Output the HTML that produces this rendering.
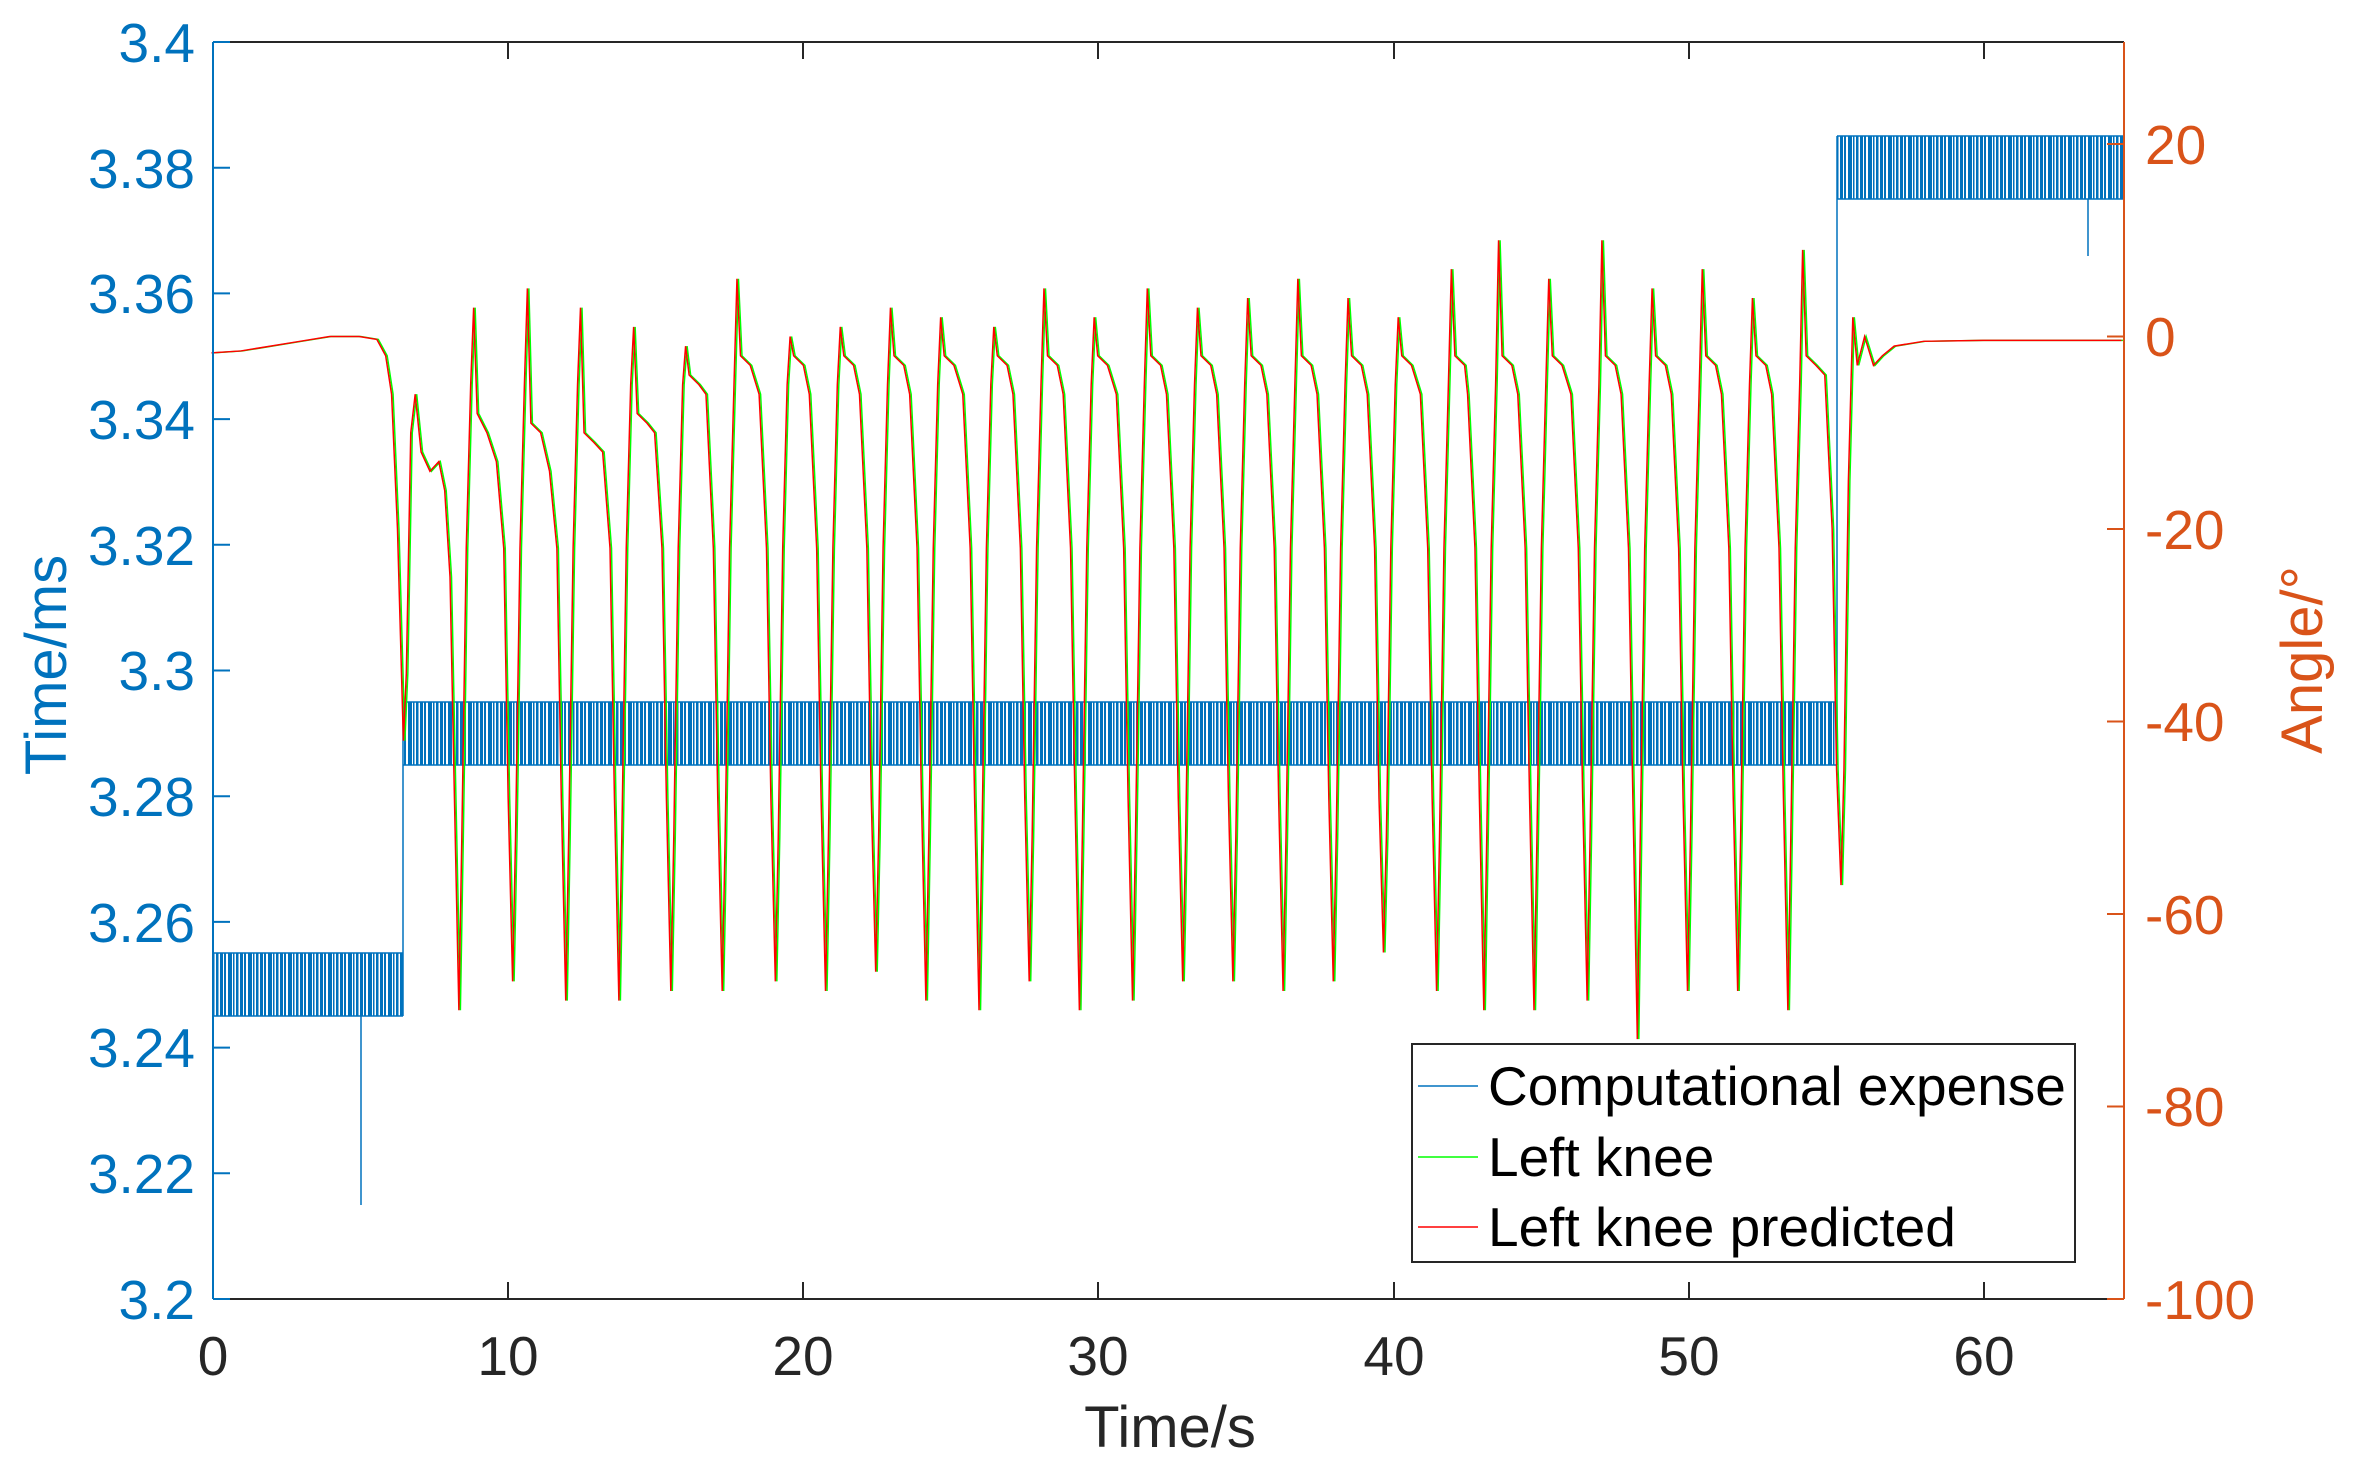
<!DOCTYPE html>
<html><head><meta charset="utf-8"><style>
html,body{margin:0;padding:0;background:#fff;}
svg{display:block;font-family:"Liberation Sans",Arial,sans-serif;}
</style></head><body>
<svg width="2353" height="1473" xmlns="http://www.w3.org/2000/svg" xmlns:xlink="http://www.w3.org/1999/xlink">
<defs>
<pattern id="bp" x="0" y="0" width="20" height="10" patternUnits="userSpaceOnUse">
<rect x="0" y="0" width="3" height="10" fill="#0072BD"/>
<rect x="4" y="0" width="2" height="10" fill="#0072BD"/>
<rect x="8" y="0" width="4" height="10" fill="#0072BD"/>
<rect x="13" y="0" width="1.5" height="10" fill="#0072BD"/>
<rect x="16" y="0" width="2.5" height="10" fill="#0072BD"/>
</pattern>
<path id="knee" fill="none" vector-effect="non-scaling-stroke" d="M0,-1.7 L1,-1.5 L2,-1 L3,-0.5 L4,0 L5,0 L5.6,-0.3 L5.9,-2 L6.1,-6 L6.3,-20 L6.5,-42 L6.6,-35 L6.75,-10 L6.9,-6 L7.1,-12 L7.4,-14 L7.7,-13 L7.9,-16 L8.08,-25 L8.23,-48 L8.38,-70 L8.48,-52 L8.63,-22 L8.78,-5 L8.88,3 L9.0,-8 L9.33,-10
L9.65,-13 L9.9,-22 L10.05,-48 L10.2,-67 L10.3,-52 L10.45,-22 L10.6,-5 L10.7,5 L10.82,-9 L11.15,-10
L11.45,-14 L11.7,-22 L11.85,-48 L12.0,-69 L12.1,-52 L12.25,-22 L12.4,-5 L12.5,3 L12.62,-10 L12.95,-11
L13.25,-12 L13.5,-22 L13.65,-48 L13.8,-69 L13.9,-52 L14.05,-22 L14.2,-5 L14.3,1 L14.42,-8 L14.75,-9
L15.01,-10 L15.26,-22 L15.41,-48 L15.56,-68 L15.66,-52 L15.81,-22 L15.96,-5 L16.06,-1 L16.18,-4 L16.51,-5
L16.75,-6 L17.0,-22 L17.15,-48 L17.3,-68 L17.4,-52 L17.55,-22 L17.7,-5 L17.8,6 L17.92,-2 L18.25,-3
L18.55,-6 L18.8,-22 L18.95,-48 L19.1,-67 L19.2,-52 L19.35,-22 L19.5,-5 L19.6,0 L19.72,-2 L20.05,-3
L20.25,-6 L20.5,-22 L20.65,-48 L20.8,-68 L20.9,-52 L21.05,-22 L21.2,-5 L21.3,1 L21.42,-2 L21.75,-3
L21.95,-6 L22.2,-22 L22.35,-48 L22.5,-66 L22.6,-52 L22.75,-22 L22.9,-5 L23.0,3 L23.12,-2 L23.45,-3
L23.65,-6 L23.9,-22 L24.05,-48 L24.2,-69 L24.3,-52 L24.45,-22 L24.6,-5 L24.7,2 L24.82,-2 L25.15,-3
L25.45,-6 L25.7,-22 L25.85,-48 L26.0,-70 L26.1,-52 L26.25,-22 L26.4,-5 L26.5,1 L26.62,-2 L26.95,-3
L27.15,-6 L27.4,-22 L27.55,-48 L27.7,-67 L27.8,-52 L27.95,-22 L28.1,-5 L28.2,5 L28.32,-2 L28.65,-3
L28.85,-6 L29.1,-22 L29.25,-48 L29.4,-70 L29.5,-52 L29.65,-22 L29.8,-5 L29.9,2 L30.02,-2 L30.35,-3
L30.65,-6 L30.9,-22 L31.05,-48 L31.2,-69 L31.3,-52 L31.45,-22 L31.6,-5 L31.7,5 L31.82,-2 L32.15,-3
L32.35,-6 L32.6,-22 L32.75,-48 L32.9,-67 L33.0,-52 L33.15,-22 L33.3,-5 L33.4,3 L33.52,-2 L33.85,-3
L34.05,-6 L34.3,-22 L34.45,-48 L34.6,-67 L34.7,-52 L34.85,-22 L35.0,-5 L35.1,4 L35.22,-2 L35.55,-3
L35.75,-6 L36.0,-22 L36.15,-48 L36.3,-68 L36.4,-52 L36.55,-22 L36.7,-5 L36.8,6 L36.92,-2 L37.25,-3
L37.45,-6 L37.7,-22 L37.85,-48 L38.0,-67 L38.1,-52 L38.25,-22 L38.4,-5 L38.5,4 L38.62,-2 L38.95,-3
L39.15,-6 L39.4,-22 L39.55,-48 L39.7,-64 L39.8,-52 L39.95,-22 L40.1,-5 L40.2,2 L40.32,-2 L40.65,-3
L40.95,-6 L41.2,-22 L41.35,-48 L41.5,-68 L41.6,-52 L41.75,-22 L41.9,-5 L42.0,7 L42.12,-2 L42.45,-3
L42.55,-6 L42.8,-22 L42.95,-48 L43.1,-70 L43.2,-52 L43.35,-22 L43.5,-5 L43.6,10 L43.72,-2 L44.05,-3
L44.25,-6 L44.5,-22 L44.65,-48 L44.8,-70 L44.9,-52 L45.05,-22 L45.2,-5 L45.3,6 L45.42,-2 L45.75,-3
L46.05,-6 L46.3,-22 L46.45,-48 L46.6,-69 L46.7,-52 L46.85,-22 L47.0,-5 L47.1,10 L47.22,-2 L47.55,-3
L47.75,-6 L48.0,-22 L48.15,-48 L48.3,-73 L48.4,-52 L48.55,-22 L48.7,-5 L48.8,5 L48.92,-2 L49.25,-3
L49.45,-6 L49.7,-22 L49.85,-48 L50.0,-68 L50.1,-52 L50.25,-22 L50.4,-5 L50.5,7 L50.62,-2 L50.95,-3
L51.15,-6 L51.4,-22 L51.55,-48 L51.7,-68 L51.8,-52 L51.95,-22 L52.1,-5 L52.2,4 L52.32,-2 L52.65,-3
L52.85,-6 L53.1,-22 L53.25,-48 L53.4,-70 L53.5,-52 L53.65,-22 L53.8,-5 L53.9,9 L54.02,-2 L54.35,-3
L54.65,-4 L54.9,-20 L55.05,-45 L55.2,-57 L55.3,-45 L55.45,-15 L55.6,2 L55.75,-3 L56.0,0 L56.3,-3 L56.6,-2 L57,-1 L58,-0.5 L60,-0.4 L64.7,-0.4"/>
</defs>
<rect width="2353" height="1473" fill="#fff"/>

<!-- blue series -->
<rect x="213" y="953" width="190" height="63" fill="url(#bp)"/>
<rect x="403" y="702" width="1434" height="63" fill="url(#bp)"/>
<rect x="1837" y="136" width="287" height="63" fill="url(#bp)"/>
<g stroke="#0072BD" stroke-width="1.5" fill="none">
<path d="M213,953H403M213,1016H403M403,702H1837M403,765H1837M1837,136H2124M1837,199H2124"/>
<path d="M403,1016V702M1837,765V136M361,1016V1205M2088,199V256"/>
</g>

<!-- knee series -->
<use xlink:href="#knee" href="#knee" transform="translate(213,336.5) scale(29.52,-9.625)" stroke="#00ff00" stroke-width="1.5"/>
<use xlink:href="#knee" href="#knee" transform="translate(211.5,336.5) scale(29.52,-9.625)" stroke="#ff0000" stroke-width="1.5"/>

<!-- axes -->
<g fill="none" stroke-width="2">
<path stroke="#262626" d="M213,42H2124M213,1299H2124
M213,42v17M213,1299v-17M508,42v17M508,1299v-17M803,42v17M803,1299v-17M1098,42v17M1098,1299v-17M1394,42v17M1394,1299v-17M1689,42v17M1689,1299v-17M1984,42v17M1984,1299v-17"/>
<path stroke="#0072BD" d="M213,42V1299M213,42h17M213,167.7h17M213,293.4h17M213,419.1h17M213,544.8h17M213,670.5h17M213,796.2h17M213,921.9h17M213,1047.6h17M213,1173.3h17M213,1299h17"/>
<path stroke="#D95319" d="M2124,42V1299M2124,144h-17M2124,336.5h-17M2124,529h-17M2124,721.5h-17M2124,914h-17M2124,1106.5h-17M2124,1299h-17"/>
</g>

<g font-size="55" fill="#0072BD" text-anchor="end">
<text x="195" y="62">3.4</text>
<text x="195" y="188">3.38</text>
<text x="195" y="313">3.36</text>
<text x="195" y="439">3.34</text>
<text x="195" y="565">3.32</text>
<text x="195" y="690">3.3</text>
<text x="195" y="816">3.28</text>
<text x="195" y="942">3.26</text>
<text x="195" y="1067">3.24</text>
<text x="195" y="1193">3.22</text>
<text x="195" y="1319">3.2</text>
</g>
<g font-size="55" fill="#D95319" text-anchor="start">
<text x="2145" y="164">20</text>
<text x="2145" y="356">0</text>
<text x="2145" y="549">-20</text>
<text x="2145" y="741">-40</text>
<text x="2145" y="934">-60</text>
<text x="2145" y="1126">-80</text>
<text x="2145" y="1319">-100</text>
</g>
<g font-size="55" fill="#262626" text-anchor="middle">
<text x="213" y="1375">0</text>
<text x="508" y="1375">10</text>
<text x="803" y="1375">20</text>
<text x="1098" y="1375">30</text>
<text x="1394" y="1375">40</text>
<text x="1689" y="1375">50</text>
<text x="1984" y="1375">60</text>
<text x="1170" y="1447" font-size="58">Time/s</text>
</g>
<text transform="translate(66,665) rotate(-90)" font-size="58" fill="#0072BD" text-anchor="middle">Time/ms</text>
<text transform="translate(2322,660) rotate(-90)" font-size="58" fill="#D95319" text-anchor="middle">Angle/°</text>

<g>
<rect x="1412" y="1044" width="663" height="218" fill="#fff" stroke="#262626" stroke-width="2"/>
<line x1="1418" y1="1086" x2="1478" y2="1086" stroke="#0072BD" stroke-width="1.5"/>
<line x1="1418" y1="1157" x2="1478" y2="1157" stroke="#00ff00" stroke-width="1.5"/>
<line x1="1418" y1="1227" x2="1478" y2="1227" stroke="#ff0000" stroke-width="1.5"/>
<g font-size="55" fill="#000">
<text x="1488" y="1105">Computational expense</text>
<text x="1488" y="1176">Left knee</text>
<text x="1488" y="1246">Left knee predicted</text>
</g>
</g>
</svg>
</body></html>
